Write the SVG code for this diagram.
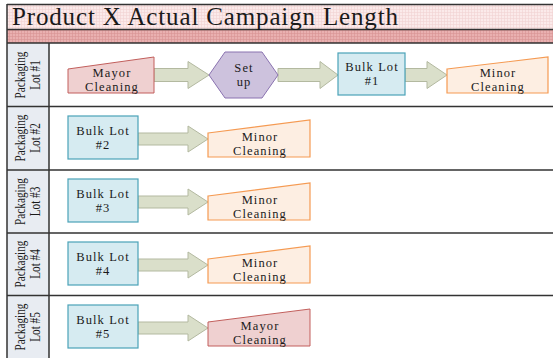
<svg xmlns="http://www.w3.org/2000/svg" width="553" height="358" viewBox="0 0 553 358">
<defs>
<pattern id="gridLight" width="3" height="3" patternUnits="userSpaceOnUse">
<rect width="3" height="3" fill="#fbeaea"/>
<path d="M0 0.5H3M0.5 0V3" stroke="#f1d2d2" stroke-width="0.6"/>
</pattern>
<pattern id="gridDark" width="3" height="3" patternUnits="userSpaceOnUse">
<rect width="3" height="3" fill="#e9b0b0"/>
<path d="M0 0.5H3M0.5 0V3" stroke="#d99494" stroke-width="0.6"/>
</pattern>
</defs>
<style>
.t{font-family:"Liberation Serif","Times New Roman",serif;font-size:12.5px;fill:#1a1a1a;text-anchor:middle;letter-spacing:1.1px}
.lbl{font-family:"Liberation Serif","Times New Roman",serif;font-size:15px;fill:#1a1a1a;text-anchor:middle}
.arrow{fill:#dadfca;stroke:#b3b9a0;stroke-width:1}
.mayor{fill:#efd0d0;stroke:#c25f5c;stroke-width:1}
.minor{fill:#fdeee2;stroke:#f59a52;stroke-width:1.2}
.bulk{fill:#d6ebf1;stroke:#4aa2b8;stroke-width:1.2}
.hex{fill:#cdc2dd;stroke:#8a72b0;stroke-width:1}
.line{stroke:#333;stroke-width:1.5;fill:none}
</style>
<g id="background">
<rect x="7" y="4" width="546" height="354" fill="#ffffff"/>
<rect x="7" y="4" width="546" height="25.5" fill="url(#gridLight)"/>
<rect x="7" y="30" width="546" height="13" fill="url(#gridDark)"/>
<rect x="7" y="43" width="42" height="315" fill="#e8ecf2"/>
<path class="line" d="M7 4.5H553M7 4V358M7 29.5H553M7 43H553M49 43V358M7 106.5H553M7 170H553M7 233H553M7 295.5H553"/>
<text x="12" y="24.5" font-family="Liberation Serif,'Times New Roman',serif" font-size="25" fill="#1a1a1a" textLength="386" lengthAdjust="spacing">Product X Actual Campaign Length</text>
</g>
<g id="lane-labels">
<g transform="translate(28,75) rotate(-90) scale(0.75,1)"><text class="lbl" x="0" y="-3">Packaging</text><text class="lbl" x="0" y="12">Lot #1</text></g>
<g transform="translate(28,138) rotate(-90) scale(0.75,1)"><text class="lbl" x="0" y="-3">Packaging</text><text class="lbl" x="0" y="12">Lot #2</text></g>
<g transform="translate(28,201.5) rotate(-90) scale(0.75,1)"><text class="lbl" x="0" y="-3">Packaging</text><text class="lbl" x="0" y="12">Lot #3</text></g>
<g transform="translate(28,264) rotate(-90) scale(0.75,1)"><text class="lbl" x="0" y="-3">Packaging</text><text class="lbl" x="0" y="12">Lot #4</text></g>
<g transform="translate(28,327) rotate(-90) scale(0.75,1)"><text class="lbl" x="0" y="-3">Packaging</text><text class="lbl" x="0" y="12">Lot #5</text></g>
</g>
<g id="connectors">
<path class="arrow" d="M154 68.5H188V61.5L209 75L188 88.5V81.5H154Z"/>
<path class="arrow" d="M278 68.5H320V61.5L338 75L320 88.5V81.5H278Z"/>
<path class="arrow" d="M405 68.5H427V61.5L447 75L427 88.5V81.5H405Z"/>
<path class="arrow" d="M138 133H188V126L208 139L188 152V145H138Z"/>
<path class="arrow" d="M138 196H188V189L208 202L188 215V208H138Z"/>
<path class="arrow" d="M138 259H188V252L208 265L188 278V271H138Z"/>
<path class="arrow" d="M138 322H188V315L208 328L188 341V334H138Z"/>
</g>
<g id="n1-mayor">
<path class="mayor" d="M68 69L154 57V93H68Z"/>
<text class="t" x="112" y="76.5">Mayor</text><text class="t" x="112" y="90.5">Cleaning</text>
</g>
<g id="n1-setup">
<path class="hex" d="M209 75L225 52H262L278 75L262 98H225Z"/>
<text class="t" x="244" y="71.5">Set</text><text class="t" x="244" y="85.5">up</text>
</g>
<g id="n1-bulk">
<rect class="bulk" x="338" y="53" width="67" height="42"/>
<text class="t" x="372" y="71">Bulk Lot</text><text class="t" x="372" y="85">#1</text>
</g>
<g id="n1-minor">
<path class="minor" d="M447 69L548 57V93H447Z"/>
<text class="t" x="498" y="76.5">Minor</text><text class="t" x="498" y="90.5">Cleaning</text>
</g>
<g id="n2-bulk">
<rect class="bulk" x="68" y="116" width="70" height="43"/>
<text class="t" x="103" y="134.5">Bulk Lot</text><text class="t" x="103" y="148.5">#2</text>
</g>
<g id="n2-minor">
<path class="minor" d="M208 133L310 120V157H208Z"/>
<text class="t" x="260" y="140.5">Minor</text><text class="t" x="260" y="154.5">Cleaning</text>
</g>
<g id="n3-bulk">
<rect class="bulk" x="68" y="179" width="70" height="43"/>
<text class="t" x="103" y="197.5">Bulk Lot</text><text class="t" x="103" y="211.5">#3</text>
</g>
<g id="n3-minor">
<path class="minor" d="M208 196L310 183V220H208Z"/>
<text class="t" x="260" y="203.5">Minor</text><text class="t" x="260" y="217.5">Cleaning</text>
</g>
<g id="n4-bulk">
<rect class="bulk" x="68" y="242" width="70" height="43"/>
<text class="t" x="103" y="260.5">Bulk Lot</text><text class="t" x="103" y="274.5">#4</text>
</g>
<g id="n4-minor">
<path class="minor" d="M208 259L310 246V283H208Z"/>
<text class="t" x="260" y="266.5">Minor</text><text class="t" x="260" y="280.5">Cleaning</text>
</g>
<g id="n5-bulk">
<rect class="bulk" x="68" y="305" width="70" height="43"/>
<text class="t" x="103" y="323.5">Bulk Lot</text><text class="t" x="103" y="337.5">#5</text>
</g>
<g id="n5-mayor">
<path class="mayor" d="M208 322L310 309V346H208Z"/>
<text class="t" x="260" y="329.5">Mayor</text><text class="t" x="260" y="343.5">Cleaning</text>
</g>
</svg>
